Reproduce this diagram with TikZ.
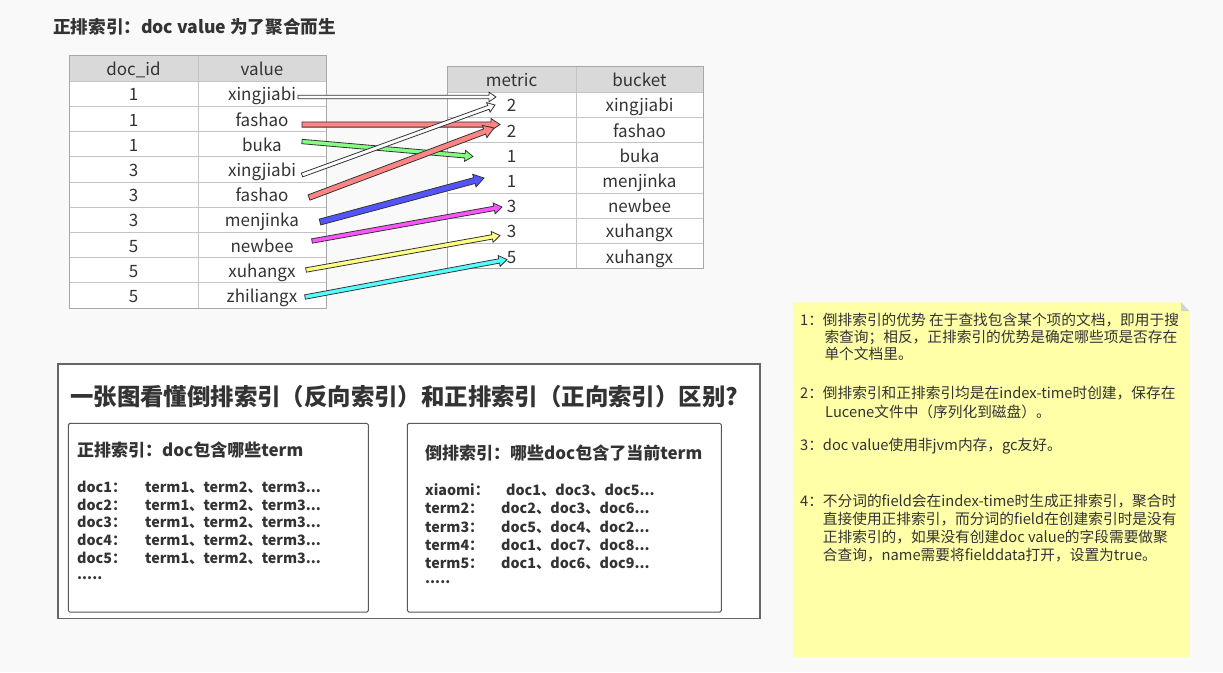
\documentclass[tikz,border=0pt]{standalone}
\usepackage{fontspec}
\setmainfont{Noto Sans CJK SC}
\usetikzlibrary{calc,positioning}
\definecolor{inkgray}{HTML}{333333}
\definecolor{pagebg}{HTML}{F9F9F9}
\definecolor{gridline}{HTML}{C4C4C4}
\definecolor{frameline}{HTML}{A8A8A8}
\definecolor{headfill}{HTML}{D9D9D9}
\definecolor{notefill}{HTML}{FFFFA8}
\definecolor{foldgray}{HTML}{D4D4D4}
\definecolor{arrred}{HTML}{FF8484}
\definecolor{arrgreen}{HTML}{84FF84}
\definecolor{arrblue}{HTML}{5454FF}
\definecolor{arrpink}{HTML}{FF54FF}
\definecolor{arryellow}{HTML}{FFFF84}
\definecolor{arrcyan}{HTML}{54FFFF}
% block arrow: fill, half shaft, half head, head length, from, to
\newcommand{\fatarrow}[6]{%
  \coordinate (neck) at ($(#6)!#4!(#5)$);
  \filldraw[fill=#1,draw=black!80,line width=0.8pt,line join=miter]
    ($(#5)!#2!90:(#6)$) -- ($(neck)!#2!90:(#6)$) -- ($(neck)!#3!90:(#6)$) -- (#6)
    -- ($(neck)!#3!-90:(#6)$) -- ($(neck)!#2!-90:(#6)$) -- ($(#5)!#2!-90:(#6)$) -- cycle;
}
\begin{document}
\begin{tikzpicture}[x=1pt,y=-1pt,
  cell/.style={font=\fontsize{17}{20}\selectfont,text=inkgray,inner sep=0pt,text height=14.6pt,text depth=0pt},
  title/.style={font=\bfseries\fontsize{17.6}{20}\selectfont,text=inkgray,inner sep=0pt,anchor=west,text height=13.3pt,text depth=0pt},
  bighead/.style={font=\bfseries\fontsize{23.4}{26}\selectfont,text=inkgray,inner sep=0pt,anchor=west,text height=17.7pt,text depth=0pt},
  boxhead/.style={font=\bfseries\fontsize{17}{20}\selectfont,text=inkgray,inner sep=0pt,anchor=west,text height=12.9pt,text depth=0pt},
  boxline/.style={font=\bfseries\fontsize{14.3}{17}\selectfont,text=inkgray,inner sep=0pt,anchor=west,text height=10.9pt,text depth=0pt},
  notetext/.style={font=\fontsize{14.7}{17}\selectfont,text=inkgray,inner sep=0pt,anchor=west,text height=11.2pt,text depth=0pt},
  panel/.style={draw=black!65,fill=white,line width=1pt,rounded corners=1.5pt}]
  \useasboundingbox (0,0) rectangle (1223,672);
  \fill[pagebg] (0,0) rectangle (1223,672);
  \node[title] (maintitle) at (53,27) {正排索引：doc value 为了聚合而生};
  % doc_id / value table
  \fill[white] (69,55) rectangle (326,308);
  \fill[headfill] (69,55) rectangle (326,81);
  \foreach \k in {0,...,8}
    \draw[gridline] (69,81+25.2*\k) -- (326,81+25.2*\k);
  \draw[gridline] (198,55) -- (198,308);
  \draw[frameline] (69,55) rectangle (326,308);
  \node[cell] (hid) at (133.5,68) {doc\_id};
  \node[cell] (hval) at (262,68) {value};
  \foreach \id/\val [count=\i] in {1/xingjiabi,1/fashao,1/buka,3/xingjiabi,3/fashao,3/menjinka,5/newbee,5/xuhangx,5/zhiliangx} {
    \node[cell] (d\i) at (133.5,81+25.2*\i-12.6) {\id};
    \node[cell] (v\i) at (262,81+25.2*\i-12.6) {\val};
  }
  % metric / bucket table
  \fill[white] (447,66) rectangle (703,268.4);
  \fill[headfill] (447,66) rectangle (703,92);
  \foreach \k in {0,...,6}
    \draw[gridline] (447,92+25.2*\k) -- (703,92+25.2*\k);
  \draw[gridline] (576,66) -- (576,268.4);
  \draw[frameline] (447,66) rectangle (703,268.4);
  \node[cell] (hmet) at (511.5,79) {metric};
  \node[cell] (hbuck) at (639.5,79) {bucket};
  \foreach \num/\term [count=\i] in {2/xingjiabi,2/fashao,1/buka,1/menjinka,3/newbee,3/xuhangx,5/xuhangx} {
    \node[cell] (m\i) at (511.5,92+25.2*\i-12.6) {\num};
    \node[cell] (b\i) at (639.5,92+25.2*\i-12.6) {\term};
  }
  % arrow ends
  \coordinate (s1) at (298,97);    \coordinate (t1) at (496,97);
  \coordinate (s2) at (302,124.5); \coordinate (t2) at (500,124.5);
  \coordinate (s3) at (302,141.5); \coordinate (t3) at (473,156.5);
  \coordinate (s4) at (302,175);   \coordinate (t4) at (495,105);
  \coordinate (s5) at (309,197.5); \coordinate (t5) at (494,128);
  \coordinate (s6) at (320,222);   \coordinate (t6) at (484,178);
  \coordinate (s7) at (312,241);   \coordinate (t7) at (502,207);
  \coordinate (s8) at (306,270);   \coordinate (t8) at (500,235.5);
  \coordinate (s9) at (305,297);   \coordinate (t9) at (507,259.5);
  \fatarrow{white}{1.8pt}{4.8pt}{7pt}{s1}{t1}
  \fatarrow{arrred}{2.6pt}{6pt}{9pt}{s2}{t2}
  \fatarrow{arrgreen}{2.2pt}{5.5pt}{8pt}{s3}{t3}
  \fatarrow{white}{2pt}{5pt}{7pt}{s4}{t4}
  \fatarrow{arrred}{2.8pt}{6.5pt}{10pt}{s5}{t5}
  \fatarrow{arrblue}{3pt}{6.5pt}{10pt}{s6}{t6}
  \fatarrow{arrpink}{2.2pt}{5.5pt}{8pt}{s7}{t7}
  \fatarrow{arryellow}{2.2pt}{5.5pt}{8pt}{s8}{t8}
  \fatarrow{arrcyan}{2.2pt}{5.5pt}{8pt}{s9}{t9}
  % comparison box
  \draw[draw=black!60,fill=white,line width=1.2pt] (58,364) rectangle (760,618.5);
  \node[bighead] (cmphead) at (70,397) {一张图看懂倒排索引（反向索引）和正排索引（正向索引）区别?};
  \draw[panel] (68.3,423.3) rectangle (368.3,612);
  \draw[panel] (407.3,423.3) rectangle (721.3,612);
  \node[boxhead] (fwdhead) at (77,450) {正排索引：doc包含哪些term};
  \foreach \k/\y in {1/486.7,2/504.6,3/522.5,4/540.4,5/558.3} {
    \node[boxline] (fk\k) at (77,\y) {doc\k：};
    \node[boxline] (fv\k) at (145,\y) {term1、term2、term3...};
  }
  \node[boxline] (fdots) at (77,574) {.....};
  \node[boxhead] (invhead) at (425,453) {倒排索引：哪些doc包含了当前term};
  \foreach \key/\x/\y/\docs [count=\k] in {xiaomi/506/490/{doc1、doc3、doc5...},term2/501/508.3/{doc2、doc3、doc6...},term3/501/526.6/{doc5、doc4、doc2...},term4/501/544.9/{doc1、doc7、doc8...},term5/501/563.2/{doc1、doc6、doc9...}} {
    \node[boxline] (ik\k) at (425,\y) {\key：};
    \node[boxline] (iv\k) at (\x,\y) {\docs};
  }
  \node[boxline] (idots) at (425,578) {.....};
  % sticky note
  \fill[notefill] (793,302.3) -- (1181,302.3) -- (1189.3,311) -- (1189.3,657) -- (793,657) -- cycle;
  \fill[foldgray] (1181,302.3) -- (1189.3,311) -- (1181,311) -- cycle;
  \node[notetext] (n1) at (800,320) {1：};
  \node[notetext] (n2) at (800,392.7) {2：};
  \node[notetext] (n3) at (800,445) {3：};
  \node[notetext] (n4) at (800,501) {4：};
  \foreach \x/\y/\txt [count=\k] in {
    822.7/320/{倒排索引的优势 在于查找包含某个项的文档，即用于搜},
    824.3/337.3/{索查询；相反，正排索引的优势是确定哪些项是否存在},
    824.3/354.3/{单个文档里。},
    822.7/392.7/{倒排索引和正排索引均是在index-time时创建，保存在},
    825/411.7/{Lucene文件中（序列化到磁盘）。},
    822.7/445/{doc value使用非jvm内存，gc友好。},
    822.7/501/{不分词的field会在index-time时生成正排索引，聚合时},
    822.7/519.3/{直接使用正排索引，而分词的field在创建索引时是没有},
    822.7/536.7/{正排索引的，如果没有创建doc value的字段需要做聚},
    822.7/555/{合查询，name需要将fielddata打开，设置为true。}}
    \node[notetext] (l\k) at (\x,\y) {\txt};
\end{tikzpicture}
\end{document}
